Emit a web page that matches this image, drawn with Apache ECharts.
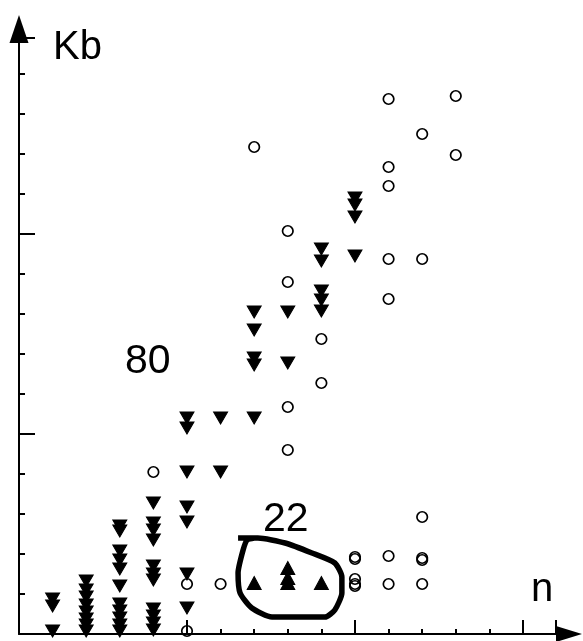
<!DOCTYPE html>
<html><head><meta charset="utf-8">
<script src="https://cdn.jsdelivr.net/npm/echarts@6/dist/echarts.min.js"></script>
<style>html,body{margin:0;padding:0;background:#fff}#c{width:583px;height:641px}</style>
</head><body><div id="c"></div>
<script>
const downTriangles = [
  [1,8.75],[1,7],[1,0.75],
  [2,13.25],[2,11],[2,9.25],[2,7.25],[2,5.5],[2,3.75],[2,2.25],[2,0.75],
  [3,27],[3,25.75],[3,20.75],[3,18.5],[3,16.25],[3,12],[3,7.5],[3,5.75],[3,4],[3,2.25],[3,0.75],
  [4,32.75],[4,27.75],[4,26],[4,23.5],[4,17],[4,15],[4,13.5],[4,6.25],[4,4.5],[4,2.75],[4,1],
  [5,54],[5,51.5],[5,40.5],[5,31.75],[5,28],[5,15],[5,6.5],
  [6,54],[6,40.5],
  [7,80.5],[7,76],[7,69],[7,67.25],[7,54],
  [8,80.5],[8,67.75],
  [9,96.25],[9,93.25],[9,85.75],[9,83.5],[9,80.75],
  [10,109],[10,107.25],[10,104.25],[10,94.5]
];
const upTriangles = [[7,12.75],[8,16.5],[8,14],[8,12.75],[9,12.75]];
const openCircles = [
  [4,40.5],
  [5,12.5],[5,0.75],
  [6,12.5],
  [7,121.75],
  [8,100.75],[8,88],[8,56.75],[8,46],
  [9,73.75],[9,62.75],
  [10,19.25],[10,18.75],[10,13.75],[10,12.5],[10,12],
  [11,133.75],[11,116.75],[11,112],[11,93.75],[11,83.75],[11,19.5],[11,12.5],
  [12,125],[12,93.75],[12,29.25],[12,19],[12,18.5],[12,12.5],
  [13,134.5],[13,119.75]
];
const loop22 = [[6.52,24],[7.11,24],[7.92,22.75],[8.72,20.25],[9.4,17.75],[9.61,14.25],[9.61,10.25],[9.4,6],[9.11,4.25],[7.53,4.25],[6.93,6.5],[6.58,10.25],[6.52,15.25],[6.67,21],[6.79,23.5],[7.0,24]];
const annotationTexts = ['80', '22'];
const axisNames = ['Kb', 'n'];

const chart = echarts.init(document.getElementById('c'), null, {renderer: 'canvas'});
const FONT = '"Liberation Sans", Arial, sans-serif';
const black = '#000';
const hidden = {show: false};
function xAx(interval, tickLen, showLine) {
  return {
    type: 'value', min: 0, max: 15.98, interval: interval, position: 'bottom',
    axisLine: showLine ? {show: true, onZero: false, symbol: ['none', 'triangle'], symbolSize: [16, 26], symbolOffset: [0, 13.1], lineStyle: {color: black, width: 2}} : hidden,
    axisTick: {show: true, inside: true, length: tickLen, lineStyle: {color: black, width: 2}},
    axisLabel: hidden, splitLine: hidden
  };
}
function yAx(interval, tickLen, showLine) {
  return {
    type: 'value', min: 0, max: 149, interval: interval, position: 'left',
    axisLine: showLine ? {show: true, onZero: false, symbol: ['none', 'triangle'], symbolSize: [19, 28], symbolOffset: [0, 9], lineStyle: {color: black, width: 2}} : hidden,
    axisTick: {show: true, inside: true, length: tickLen, lineStyle: {color: black, width: 2}},
    axisLabel: hidden, splitLine: hidden
  };
}
chart.setOption({
  animation: false,
  backgroundColor: '#fff',
  grid: {left: 19, right: 27.1, top: 38, bottom: 7},
  xAxis: [xAx(1, 5, true), xAx(5, 14, false)],
  yAxis: [yAx(10, 6, true), yAx(50, 16, false)],
  series: [
    {type: 'scatter', data: downTriangles, symbol: 'triangle', symbolRotate: 180, symbolSize: [14, 12], itemStyle: {color: black, borderColor: black, borderWidth: 1, opacity: 1}, z: 3},
    {type: 'scatter', data: upTriangles, symbol: 'triangle', symbolSize: [14, 13], itemStyle: {color: black, borderColor: black, borderWidth: 1, opacity: 1}, z: 3},
    {type: 'scatter', data: openCircles, symbol: 'circle', symbolSize: 10.5, itemStyle: {color: 'rgba(0,0,0,0)', borderColor: black, borderWidth: 1.7, opacity: 1}, z: 4},
    {type: 'line', data: loop22, symbol: 'none', smooth: 0.2, lineStyle: {color: black, width: 5.5, join: 'round', opacity: 1}, z: 5}
  ],
  graphic: [
    {type: 'text', x: 125, y: 362, style: {text: annotationTexts[0], font: '41px ' + FONT, fill: black, align: 'left', verticalAlign: 'middle'}},
    {type: 'text', x: 263, y: 520, style: {text: annotationTexts[1], font: '41px ' + FONT, fill: black, align: 'left', verticalAlign: 'middle'}},
    {type: 'text', x: 53, y: 48, style: {text: axisNames[0], font: '40px ' + FONT, fill: black, align: 'left', verticalAlign: 'middle'}},
    {type: 'text', x: 531, y: 590, style: {text: axisNames[1], font: '40px ' + FONT, fill: black, align: 'left', verticalAlign: 'middle'}}
  ]
});
</script></body></html>
